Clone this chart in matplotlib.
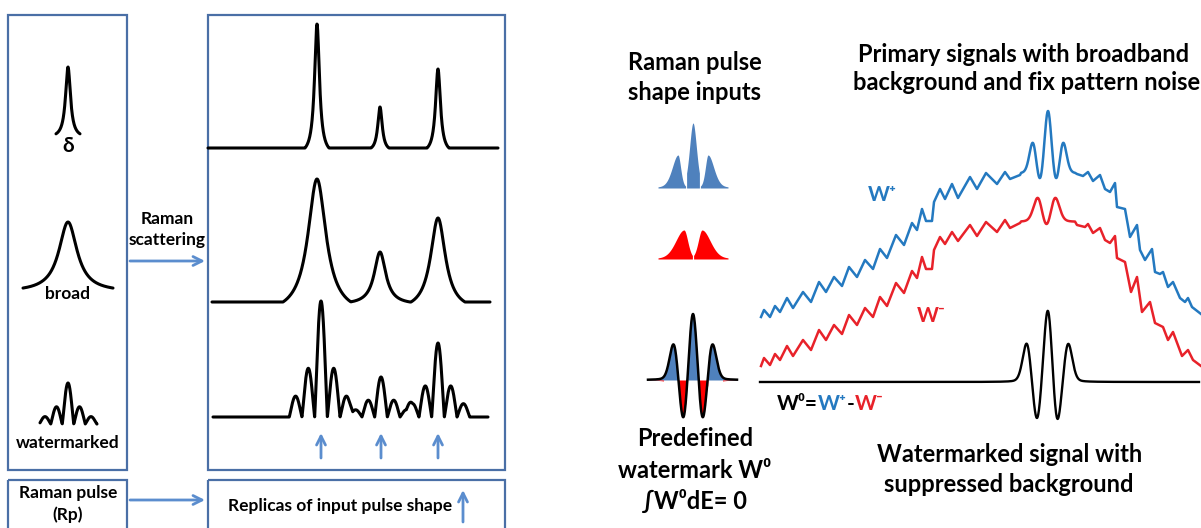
import numpy as np
import matplotlib.pyplot as plt
from matplotlib.patches import Rectangle

plt.rcParams['font.family'] = ['Lato', 'DejaVu Sans']
plt.rcParams['font.weight'] = 'bold'

W, H = 1201, 528

# ---------------- data (pixel units, y grows downward) ----------------
# left panel: three Raman lines seen with three different pulse shapes
delta_pos = [317, 380, 438]
delta_height = [124, 41, 79]
delta_width = [3.0, 2.7, 3.0]
delta_foot = [12, 9, 11]

broad_pos = [317, 380, 438]
broad_height = [123, 50, 84]
broad_width = [11, 7, 9]
broad_foot = [34, 30, 27]

wm_pos = [321, 381, 438]
wm_height = [116, 40, 74]
wm_lobes = [0.18, 0.42, 1.0, 0.42, 0.18]   # relative lobe heights of the watermarked pulse
wm_step = 12.7

# right panel: W+ and W- zig-zag backgrounds (vertices), left and right of the central feature
blue_left_x = [761, 764, 770, 775, 780, 787, 793, 803, 811, 819, 826, 834, 842, 849, 857, 865, 873,
               880, 887, 896, 904, 912, 917, 922, 926, 932, 934, 940, 945, 952, 958, 970, 977, 986,
               997, 1005, 1010, 1020]
blue_left_y = [317, 310, 317, 306, 312, 298, 308, 292, 302, 282, 292, 277, 286, 267, 277, 260, 269,
               249, 258, 235, 245, 223, 230, 209, 221, 221, 202, 189, 199, 184, 198, 177, 189, 173,
               184, 172, 179, 175]
blue_right_x = [1077, 1083, 1088, 1093, 1100, 1105, 1110, 1115, 1117, 1125, 1130, 1137, 1140, 1145,
                1152, 1155, 1160, 1163, 1168, 1173, 1180, 1185, 1188, 1192, 1201]
blue_right_y = [174, 176, 172, 181, 175, 189, 192, 183, 207, 209, 237, 225, 250, 260, 249, 272, 274,
                272, 287, 282, 298, 302, 298, 307, 314]

red_left_x = [761, 764, 770, 775, 780, 787, 793, 803, 811, 819, 826, 834, 842, 849, 857, 865, 873,
              880, 887, 896, 904, 912, 917, 922, 926, 932, 934, 940, 945, 952, 958, 970, 977, 986,
              997, 1005, 1010, 1020]
red_left_y = [366, 358, 365, 354, 360, 346, 356, 340, 350, 330, 340, 325, 334, 315, 325, 308, 317,
              297, 306, 283, 293, 271, 278, 257, 269, 269, 250, 237, 244, 232, 241, 225, 236, 222,
              232, 220, 228, 223]
red_right_x = [1077, 1085, 1088, 1093, 1100, 1105, 1110, 1115, 1117, 1125, 1131, 1137, 1142, 1150,
               1155, 1163, 1168, 1173, 1182, 1188, 1193, 1201]
red_right_y = [225, 227, 224, 233, 228, 240, 243, 236, 258, 262, 292, 277, 312, 302, 323, 327, 340,
               332, 356, 350, 360, 366]

# central watermark features (extremes relative to the local baseline, up = positive)
blue_c_pos = [1033, 1040, 1048, 1056, 1063]
blue_c_ext = [31, -4, 63, -4, 31]
red_c_pos = [1038, 1046.5, 1055]
red_c_ext = [24, -2, 24]
w0_pos = [1027, 1037, 1048, 1057, 1068]
w0_ext = [38, -36, 71, -36, 38]

# pulse-shape icons
icon_blue_pos = [678, 693, 708]
icon_blue_height = [33, 65, 33]
icon_red_pos = [684, 702]
icon_red_height = [29, 29]
icon_w0_pos = [674, 683.5, 693, 702.5, 712]
icon_w0_ext = [35, -37, 66, -37, 35]


def lorentz(x, c, h, g):
    return h / (1 + ((x - c) / g) ** 2)


def pv(x, c, h, gl, gr=None, eta=0.3):
    # pseudo-Voigt line shape, half width gl / gr on each side
    gr = gl if gr is None else gr
    u = (x - c) / np.where(x < c, gl, gr)
    return h * ((1 - eta) * np.exp(-np.log(2) * u ** 2) + eta / (1 + u ** 2))


def cut_peak(x, c, h, g, d):
    edge = 1 / (1 + (d / g) ** 2)
    return np.clip(h * (1 / (1 + ((x - c) / g) ** 2) - edge) / (1 - edge), 0, None)


def solved_peaks(x, pos, ext, g, eta=0.25):
    pos = np.asarray(pos, float)
    A = np.array([pv(pos, c, 1.0, g, eta=eta) for c in pos]).T
    amps = np.linalg.solve(A, np.asarray(ext, float))
    return sum(pv(x, c, a, g, eta=eta) for c, a in zip(pos, amps))


def wm_pulse(x, c, h, step):
    # watermarked pulse: touching cosine lobes, valleys back on the baseline
    n = len(wm_lobes) // 2
    out = np.zeros_like(x)
    for k, r in enumerate(wm_lobes):
        u = (x - c - (k - n) * step) / (step / 2)
        out += np.where(np.abs(u) < 1, h * r * np.cos(np.pi / 2 * u) ** 1.15, 0)
    return out


fig = plt.figure(figsize=(W / 100, H / 100), dpi=100)
ax = fig.add_axes([0, 0, 1, 1])
ax.set_xlim(0, W)
ax.set_ylim(H, 0)
ax.axis('off')

box_c = '#4a6fa6'
arrow_c = '#5b8dce'
blue_c = '#2479c0'
red_c = '#e8222a'
fill_blue = '#4f81bd'
fill_red = '#ff0000'

for x0, y0, x1, y1 in [(8, 15, 127, 470), (208, 15, 505, 470), (8, 480, 127, 570), (208, 480, 505, 570)]:
    ax.add_patch(Rectangle((x0, y0), x1 - x0, y1 - y0, fill=False, ec=box_c, lw=1.6))


def arrow(x0, y0, x1, y1):
    ax.annotate('', xy=(x1, y1), xytext=(x0, y0),
                arrowprops=dict(arrowstyle='->', color=arrow_c, lw=2.0, mutation_scale=16,
                                shrinkA=0, shrinkB=0))


# ---------------- left panel ----------------
lk = dict(color='black', lw=2.2, solid_capstyle='round', solid_joinstyle='round')

x = np.linspace(56, 80, 200)
ax.plot(x, 138 - lorentz(x, 68, 71, 3.0), **lk)
x = np.linspace(23, 113, 300)
ax.plot(x, 292 - lorentz(x, 68, 70, 11), **lk)
x = np.linspace(40, 97, 400)
ax.plot(x, 424 - wm_pulse(x, 68, 41, 11.5), **lk)

ax.text(68, 146, 'δ', ha='center', va='center', fontsize=15)
ax.text(68, 294, 'broad', ha='center', va='center', fontsize=12.5)
ax.text(68, 443, 'watermarked', ha='center', va='center', fontsize=12.5)

x = np.linspace(208, 498, 1500)
y = np.max([cut_peak(x, c, h, g, d) for c, h, g, d in
            zip(delta_pos, delta_height, delta_width, delta_foot)], axis=0)
ax.plot(x, 148 - y, **lk)

x = np.linspace(212, 490, 1500)
y = np.max([cut_peak(x, c, h, g, d) for c, h, g, d in
            zip(broad_pos, broad_height, broad_width, broad_foot)], axis=0)
ax.plot(x, 302 - y, **lk)

x = np.linspace(213, 488, 2000)
y = sum(wm_pulse(x, c, h, wm_step) for c, h in zip(wm_pos, wm_height))
ax.plot(x, 417 - y, **lk)

ax.text(167, 219, 'Raman', ha='center', va='center', fontsize=12.5)
ax.text(167, 240, 'scattering', ha='center', va='center', fontsize=12.5)
arrow(130, 261, 205, 261)
for xp in wm_pos:
    arrow(xp, 458, xp, 433)

ax.text(68, 493, 'Raman pulse', ha='center', va='center', fontsize=12.5)
ax.text(68, 515, '(Rp)', ha='center', va='center', fontsize=12.5)
arrow(130, 500, 205, 500)
ax.text(340, 506, 'Replicas of input pulse shape', ha='center', va='center', fontsize=12.5)
arrow(463, 522, 463, 490)

# ---------------- right panel ----------------
big = 17
ax.text(695, 62, 'Raman pulse', ha='center', va='center', fontsize=big)
ax.text(695, 93, 'shape inputs', ha='center', va='center', fontsize=big)
ax.text(858, 55, 'Primary signals with broadband', ha='left', va='center', fontsize=big)
ax.text(853, 83, 'background and fix pattern noise', ha='left', va='center', fontsize=big)

# blue icon: three peaks separated by thin gaps
segs = [(658, 685.6), (686.6, 699.4), (700.4, 728)]
gl = [7, 4.2, 3.2]
gr = [3.2, 4.2, 7]
for (a, b), c, h, g1, g2 in zip(segs, icon_blue_pos, icon_blue_height, gl, gr):
    x = np.linspace(a, b, 200)
    ax.fill_between(x, 188, 188 - pv(x, c, h, g1, g2, eta=0.3), color=fill_blue, lw=0)
# red icon: two peaks with steep inner edges
segs = [(658, 692.4), (693.6, 728)]
for (a, b), c, h, g1, g2 in zip(segs, icon_red_pos, icon_red_height, [10, 4.5], [4.5, 10]):
    x = np.linspace(a, b, 200)
    ax.fill_between(x, 259, 259 - pv(x, c, h, g1, g2, eta=0.25), color=fill_red, lw=0)

# watermark icon W0 = W+ - W-
x = np.linspace(648, 737, 600)
w = solved_peaks(x, icon_w0_pos, icon_w0_ext, 5.0)
tail = pv(x, 683.5, 7, 11, 3) + pv(x, 702.5, 7, 3, 11)
ax.fill_between(x, 380, 380 - np.clip(w, 0, None), color=fill_blue, lw=0)
ax.fill_between(x, 380, 380 + np.maximum(np.clip(-w, 0, None), tail * (w < 3)), color=fill_red, lw=0)
ax.plot(x, 380 - w, color='black', lw=1.8)

ax.text(695, 439, 'Predefined', ha='center', va='center', fontsize=big)
ax.text(695, 471, 'watermark W⁰', ha='center', va='center', fontsize=big)
ax.text(695, 501, '∫W⁰dE= 0', ha='center', va='center', fontsize=big)

# W+ line
xc = np.linspace(1021, 1075, 400)
ax.plot(np.concatenate([blue_left_x, xc, blue_right_x]),
        np.concatenate([blue_left_y, 174 - solved_peaks(xc, blue_c_pos, blue_c_ext, 4.2), blue_right_y]),
        color=blue_c, lw=1.8)
# W- line
ax.plot(np.concatenate([red_left_x, xc, red_right_x]),
        np.concatenate([red_left_y, 222 - solved_peaks(xc, red_c_pos, red_c_ext, 5.2), red_right_y]),
        color=red_c, lw=1.8)
# W0 line
x = np.linspace(760, 1199, 2000)
ax.plot(x, 382 - solved_peaks(x, w0_pos, w0_ext, 5.0), color='black', lw=1.7)

ax.text(868, 195, 'W⁺', ha='left', va='center', fontsize=15, color=blue_c)
ax.text(917, 316, 'W⁻', ha='left', va='center', fontsize=15, color=red_c)

t = ax.text(777, 404, 'W⁰=', ha='left', va='center', fontsize=15, color='black')
t = ax.annotate('W⁺', xy=(1, 0), xycoords=t, ha='left', va='bottom', fontsize=15, color=blue_c)
t = ax.annotate('-', xy=(1, 0), xycoords=t, ha='left', va='bottom', fontsize=15, color='black')
ax.annotate('W⁻', xy=(1, 0), xycoords=t, ha='left', va='bottom', fontsize=15, color=red_c)

ax.text(1010, 454, 'Watermarked signal with', ha='center', va='center', fontsize=big)
ax.text(1009, 484, 'suppressed background', ha='center', va='center', fontsize=big)

fig.savefig('out.png', dpi=100)
